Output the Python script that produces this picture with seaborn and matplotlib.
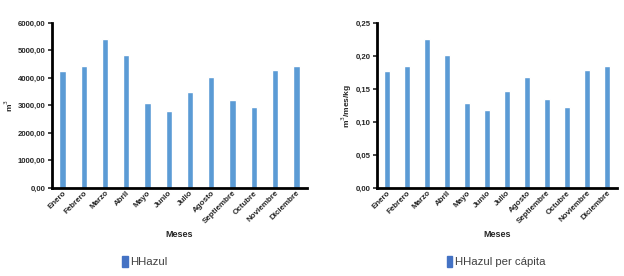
import matplotlib
matplotlib.use("Agg")
import matplotlib.pyplot as plt
import seaborn as sns
import pandas as pd
from matplotlib.patches import Patch
from matplotlib.ticker import FuncFormatter

MESES = ["Enero", "Febrero", "Marzo", "Abril", "Mayo", "Junio", "Julio",
         "Agosto", "Septiembre", "Octubre", "Noviembre", "Diciembre"]
HHAZUL = [4260, 4430, 5410, 4820, 3090, 2800, 3500, 4020, 3210, 2950, 4290, 4430]
HHAZUL_PC = [0.177, 0.185, 0.225, 0.201, 0.129, 0.118, 0.147, 0.168, 0.134, 0.123, 0.179, 0.185]

BAR_COLOR = "#5b9bd5"
LEG_COLOR = "#4472c4"

sns.set_theme(style="white")
plt.rcParams["font.family"] = ["Liberation Sans", "DejaVu Sans"]


def coma(fmt):
    return FuncFormatter(lambda v, p: fmt.format(v).replace(".", ","))


def panel(ax, values, ylabel, ylab_x, ymax, step, fmt, legend_label, leg_x):
    df = pd.DataFrame({"mes": MESES, "valor": values})
    sns.barplot(data=df, x="mes", y="valor", color=BAR_COLOR, width=0.3,
                saturation=1, ax=ax)
    ax.set_ylim(0, ymax)
    ax.set_xlim(-0.5, 11.5)
    ax.set_yticks([i * step for i in range(int(round(ymax / step)) + 1)])
    ax.yaxis.set_major_formatter(coma(fmt))
    ax.tick_params(axis="y", labelsize=5.6, length=3, width=1.2, left=True, pad=1.5)
    ax.tick_params(axis="x", labelsize=5.8, length=0, pad=1)
    for lab in ax.get_yticklabels():
        lab.set_fontweight("bold")
    ax.set_xticks(range(len(MESES)))
    ax.set_xticklabels(MESES, rotation=45, ha="right", rotation_mode="anchor",
                       fontweight="bold")
    ax.set_xlabel("Meses", fontsize=6.5, fontweight="bold", va="center")
    ax.xaxis.set_label_coords(0.5, -0.28)
    ax.set_ylabel(ylabel, fontsize=6, fontweight="bold", va="center")
    ax.yaxis.set_label_coords(ylab_x, 0.5)
    sns.despine(ax=ax)
    for s in ("left", "bottom"):
        ax.spines[s].set_linewidth(2)
        ax.spines[s].set_color("black")
    fig.legend(handles=[Patch(color=LEG_COLOR, label=legend_label)],
               loc="center", bbox_to_anchor=(leg_x, 0.052), frameon=False,
               fontsize=8.2, handlelength=0.45, handleheight=1.1,
               handletextpad=0.2, labelcolor="#404040")


fig = plt.figure(figsize=(6.24, 2.76), dpi=100)
ax1 = fig.add_axes([0.083, 0.319, 0.409, 0.598])
ax2 = fig.add_axes([0.604, 0.319, 0.385, 0.598])

panel(ax1, HHAZUL, "m$^3$", -0.17, 6000, 1000, "{:.2f}", "HHazul", 0.232)
panel(ax2, HHAZUL_PC, "m$^3$/mes/kg", -0.125, 0.25, 0.05, "{:.2f}",
      "HHazul per cápita", 0.795)

fig.savefig("out.png", dpi=100)
